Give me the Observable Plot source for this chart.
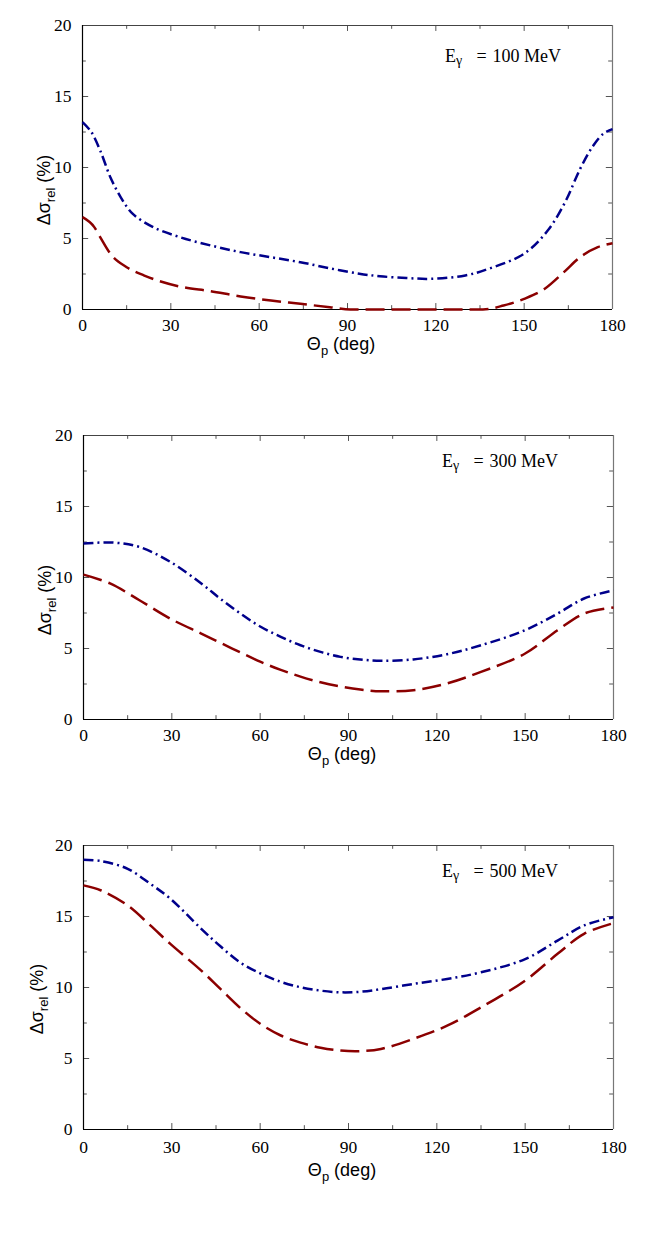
<!DOCTYPE html>
<html>
<head>
<meta charset="utf-8">
<script src="https://cdn.jsdelivr.net/npm/d3@7"></script>
<script src="https://cdn.jsdelivr.net/npm/@observablehq/plot@0.6"></script>
<style>
  body { margin: 0; background: #fff; }
  #chart svg { display: block; }
</style>
</head>
<body>
<div id="chart"></div>
<script>
// ---- tick values ----
const ticksX = [0, 30, 60, 90, 120, 150, 180];
const minorX = [15, 45, 75, 105, 135, 165];
const ticksY = [0, 5, 10, 15, 20];
const minorY = [2.5, 7.5, 12.5, 17.5];

// ---- panel labels ----
const energies = ["100", "300", "500"];

// ---- E = 100 MeV ----
const thetaBlue100 = [0, 3, 6, 9.5, 13, 17, 24, 33, 43.5, 53.7, 64, 74, 84, 94, 101, 110, 118, 130, 138, 150, 158, 164, 169, 173.5, 177, 180];
const blue100      = [13.2, 12.5, 11.2, 9.3, 7.9, 6.75, 5.8, 5.1, 4.51, 4.04, 3.68, 3.33, 2.9, 2.52, 2.34, 2.22, 2.16, 2.4, 2.87, 3.93, 5.56, 7.6, 9.9, 11.55, 12.4, 12.7];
const thetaRed100  = [0, 4, 6, 9.5, 15, 21, 33, 43.5, 53.7, 64, 74, 84, 91, 100, 120, 136, 143, 150, 157, 163.5, 169, 175, 180];
const red100       = [6.5, 5.8, 5.1, 3.92, 2.98, 2.39, 1.62, 1.29, 0.92, 0.63, 0.4, 0.16, 0, 0, 0, 0, 0.28, 0.75, 1.46, 2.63, 3.68, 4.39, 4.67];

// ---- E = 300 MeV ----
const thetaBlue300 = [0, 10, 19, 29.5, 40, 46.5, 53.3, 60, 67, 73.7, 80.5, 87.3, 94, 101, 112, 123.5, 135, 150, 161, 170, 180];
const blue300      = [12.39, 12.46, 12.15, 11.1, 9.58, 8.5, 7.46, 6.55, 5.82, 5.23, 4.76, 4.41, 4.23, 4.13, 4.23, 4.6, 5.23, 6.29, 7.46, 8.52, 9.1];
const thetaRed300  = [0, 9, 19, 29.5, 40, 46.5, 53.3, 60, 67, 73.7, 80.5, 87.3, 94, 101, 112, 123.5, 135, 150, 161, 170, 180];
const red300       = [10.2, 9.58, 8.4, 7.1, 6.05, 5.4, 4.72, 4.07, 3.5, 3.02, 2.62, 2.32, 2.11, 1.99, 2.06, 2.54, 3.35, 4.65, 6.29, 7.46, 7.89];

// ---- E = 500 MeV ----
const thetaBlue500 = [0, 6, 15, 22.7, 29.5, 40, 46.5, 53.3, 60, 67, 73.7, 80.5, 87.3, 94, 101, 112, 123.5, 135, 150, 161, 170, 180];
const blue500      = [19.0, 18.9, 18.36, 17.3, 16.25, 14.13, 12.9, 11.75, 11.0, 10.4, 10.02, 9.78, 9.66, 9.7, 9.88, 10.25, 10.6, 11.07, 12.0, 13.3, 14.37, 14.95];
const thetaRed500  = [0, 6, 15, 22.7, 29.5, 40, 46.5, 53.3, 60, 67, 73.7, 80.5, 87.3, 94, 101, 112, 123.5, 135, 150, 161, 170, 180];
const red500       = [17.19, 16.83, 15.78, 14.37, 13.07, 11.19, 9.9, 8.55, 7.45, 6.62, 6.12, 5.76, 5.56, 5.52, 5.67, 6.38, 7.31, 8.6, 10.49, 12.37, 13.78, 14.53];

const BLUE = "#00008b";
const RED = "#8b0000";
const SERIF = "'Liberation Serif', 'Times New Roman', serif";
const SANS = "'Liberation Sans', Arial, sans-serif";

// per-panel layout (pixels)
const layouts = [
  {ml: 82, mr: 42, tickPadX: 9, xLabelDy: 41, yLabelX: 50, yLabelY: 190, eX: 445, eY: 62},
  {ml: 83, mr: 41, tickPadX: 9, xLabelDy: 41, yLabelX: 51, yLabelY: 190, eX: 442, eY: 57},
  {ml: 83, mr: 41, tickPadX: 11, xLabelDy: 47, yLabelX: 43, yLabelY: 179, eX: 442, eY: 57}
];

const series = [
  {tb: thetaBlue100, b: blue100, tr: thetaRed100, r: red100, redCurve: "monotone-x"},
  {tb: thetaBlue300, b: blue300, tr: thetaRed300, r: red300, redCurve: "catmull-rom"},
  {tb: thetaBlue500, b: blue500, tr: thetaRed500, r: red500, redCurve: "catmull-rom"}
];

function makePanel(i) {
  const L = layouts[i], S = series[i];
  const blueData = S.tb.map((t, k) => ({t, v: S.b[k]}));
  const redData = S.tr.map((t, k) => ({t, v: S.r[k]}));
  const tickStroke = "#555";
  const svg = Plot.plot({
    width: 654, height: 410,
    marginLeft: L.ml, marginRight: L.mr, marginTop: 25, marginBottom: 101,
    x: {domain: [0, 180]},
    y: {domain: [0, 20]},
    style: {background: "white", color: "#000"},
    marks: [
      Plot.axisX({ticks: ticksX, tickSize: 0, tickPadding: L.tickPadX, fontSize: 17.5, label: null}),
      Plot.axisY({ticks: ticksY, tickSize: 0, tickPadding: 11, fontSize: 17.5, label: null}),
      // inward ticks: bottom/top
      Plot.ruleX(ticksX, {x: d => d, y1: 0, y2: 0.42, stroke: tickStroke}),
      Plot.ruleX(minorX, {x: d => d, y1: 0, y2: 0.27, stroke: tickStroke}),
      Plot.ruleX(ticksX, {x: d => d, y1: 20, y2: 19.58, stroke: tickStroke}),
      Plot.ruleX(minorX, {x: d => d, y1: 20, y2: 19.73, stroke: tickStroke}),
      // inward ticks: left/right
      Plot.ruleY(ticksY, {y: d => d, x1: 0, x2: 2.1, stroke: tickStroke}),
      Plot.ruleY(minorY, {y: d => d, x1: 0, x2: 1.3, stroke: tickStroke}),
      Plot.ruleY(ticksY, {y: d => d, x1: 180, x2: 177.9, stroke: tickStroke}),
      Plot.ruleY(minorY, {y: d => d, x1: 180, x2: 178.7, stroke: tickStroke}),
      // frame
      Plot.ruleX([180], {stroke: "#777", strokeWidth: 1.2}),
      Plot.ruleY([20], {stroke: "#444", strokeWidth: 1.2}),
      Plot.ruleX([0], {stroke: "#000", strokeWidth: 1.2}),
      Plot.ruleY([0], {stroke: "#000", strokeWidth: 1.2}),
      // curves
      Plot.line(redData, {x: "t", y: "v", stroke: RED, strokeWidth: 2.5, strokeDasharray: "19,7", strokeLinecap: "butt", curve: S.redCurve}),
      Plot.line(blueData, {x: "t", y: "v", stroke: BLUE, strokeWidth: 2.5, strokeDasharray: "10,4,2,4", strokeLinecap: "butt", curve: "catmull-rom"})
    ]
  });

  const s = d3.select(svg);
  // serif tick labels (every text Plot drew is a tick label)
  s.attr("font-family", SERIF).style("font-family", SERIF);
  s.selectAll("g").filter(function() { return this.hasAttribute("font-family"); }).attr("font-family", SERIF);
  s.selectAll("text").style("font-family", SERIF).style("font-size", "17.5px");

  const xs = svg.scale("x"), ys = svg.scale("y");
  const frameBottom = ys.apply(0);
  const cx = (xs.apply(0) + xs.apply(180)) / 2 - 6;

  // x-axis label: Θp (deg)
  const tx = s.append("text")
    .attr("x", cx).attr("y", frameBottom + L.xLabelDy)
    .attr("text-anchor", "middle")
    .style("font-family", SANS).style("font-size", "18px").attr("fill", "#000");
  tx.append("tspan").text("Θ");
  tx.append("tspan").style("font-size", "13px").attr("dy", 5).text("p");
  tx.append("tspan").attr("dy", -5).text(" (deg)");

  // y-axis label: Δσrel (%)
  const ty = s.append("text")
    .attr("x", L.yLabelX).attr("y", L.yLabelY)
    .attr("transform", `rotate(-90, ${L.yLabelX}, ${L.yLabelY})`)
    .attr("text-anchor", "middle")
    .style("font-family", SANS).style("font-size", "18px").attr("fill", "#000");
  ty.append("tspan").text("Δσ");
  ty.append("tspan").style("font-size", "13px").attr("dy", 5).text("rel");
  ty.append("tspan").attr("dy", -5).text(" (%)");

  // energy label: Eγ = ... MeV
  const te = s.append("text")
    .attr("x", L.eX).attr("y", L.eY)
    .attr("text-anchor", "start")
    .style("font-family", SERIF).style("font-size", "18px").attr("fill", "#000");
  te.append("tspan").attr("text-anchor", "start").text("E");
  te.append("tspan").attr("text-anchor", "start").style("font-size", "14px").attr("dy", 3).text("γ");
  te.append("tspan").attr("text-anchor", "start").attr("x", L.eX + 31.5).attr("dy", -3).text("=");
  te.append("tspan").attr("text-anchor", "start").attr("x", L.eX + 47.5).text(energies[i] + " MeV");

  return svg;
}

const root = document.getElementById("chart");
for (let i = 0; i < 3; i++) root.appendChild(makePanel(i));
</script>
</body>
</html>
